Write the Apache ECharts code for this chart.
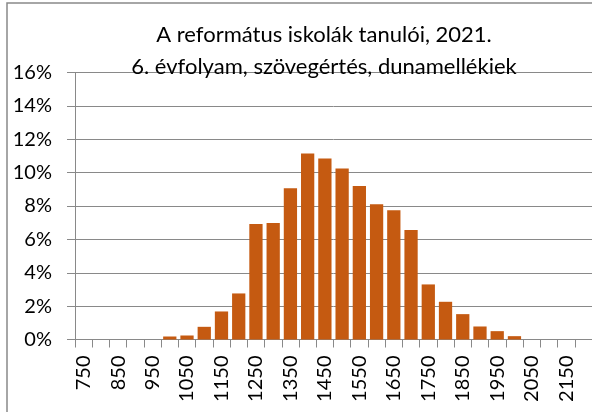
<!DOCTYPE html>
<html>
<head>
    <meta charset="utf-8">
    <title>A református iskolák tanulói, 2021.</title>
    <script src="https://cdn.jsdelivr.net/npm/echarts@6/dist/echarts.min.js"></script>
    <style>
        html, body { margin: 0; padding: 0; background: #fff; }
        #chart { width: 592px; height: 412px; }
    </style>
</head>
<body>
<div id="chart"></div>
<script type="text/javascript">
    // pontszám-sávok (a 2200-as sáv a kép szélén kívül esik)
    var scores = ['750', '800', '850', '900', '950', '1000', '1050', '1100', '1150', '1200',
        '1250', '1300', '1350', '1400', '1450', '1500', '1550', '1600', '1650', '1700',
        '1750', '1800', '1850', '1900', '1950', '2000', '2050', '2100', '2150', '2200'];
    // tanulók aránya, %
    var shares = [0, 0, 0, 0, 0, 0.18, 0.24, 0.76, 1.68, 2.76,
        6.92, 6.98, 9.06, 11.14, 10.84, 10.24, 9.2, 8.1, 7.74, 6.56,
        3.3, 2.26, 1.52, 0.78, 0.5, 0.2, 0, 0, 0, 0];
    var titleLines = ['A református iskolák tanulói, 2021.', '6. évfolyam, szövegértés, dunamellékiek'];

    var font = 'Lato, "Open Sans", sans-serif';
    var grey = '#898989';

    var myChart = echarts.init(document.getElementById('chart'));

    var option = {
        animation: false,
        title: {
            text: titleLines.join('\n'),
            left: 324,
            top: 19,
            padding: 0,
            textAlign: 'center',
            textStyle: {
                fontFamily: font,
                fontSize: 22,
                fontWeight: 'normal',
                color: '#000',
                lineHeight: 31.7
            }
        },
        graphic: [{
            type: 'rect',
            silent: true,
            shape: {x: 7, y: 3, width: 620, height: 440},
            style: {fill: null, stroke: grey, lineWidth: 1.5}
        }],
        grid: {
            left: 75,
            right: -3,
            top: 72.5,
            bottom: 72.5
        },
        xAxis: {
            type: 'category',
            data: scores,
            boundaryGap: true,
            axisLine: {lineStyle: {color: grey, width: 1}},
            axisTick: {show: true, interval: 0, length: 8, lineStyle: {color: grey}},
            axisLabel: {
                interval: 1,
                rotate: 90,
                margin: 16,
                fontFamily: font,
                fontSize: 20,
                color: '#000'
            },
            splitLine: {show: false}
        },
        yAxis: {
            type: 'value',
            min: 0,
            max: 16,
            interval: 2,
            axisLine: {show: true, lineStyle: {color: grey, width: 1}},
            axisTick: {show: true, length: 8, lineStyle: {color: grey}},
            axisLabel: {
                margin: 23,
                formatter: '{value}%',
                fontFamily: font,
                fontSize: 20,
                color: '#000'
            },
            splitLine: {lineStyle: {color: grey, width: 1}}
        },
        series: [{
            type: 'bar',
            data: shares,
            barCategoryGap: '23%',
            itemStyle: {color: '#C55A11'}
        }]
    };

    myChart.setOption(option);
</script>
</body>
</html>
